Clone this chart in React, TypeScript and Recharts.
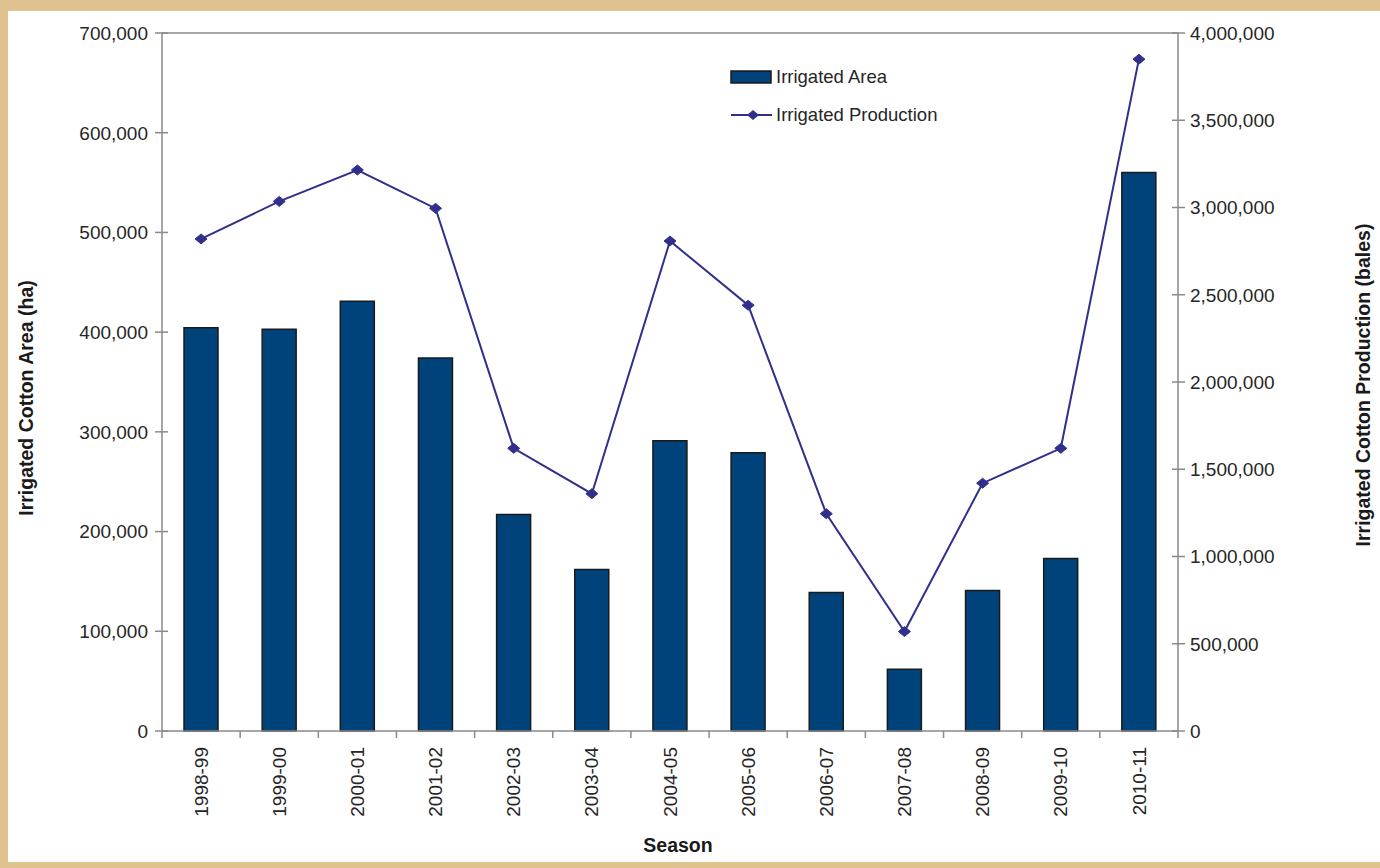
import React from "react";
import {
  ComposedChart,
  Bar,
  Line,
  XAxis,
  YAxis,
  Legend,
  ReferenceLine,
  Label,
} from "recharts";

const seasons = [
  "1998-99", "1999-00", "2000-01", "2001-02", "2002-03", "2003-04", "2004-05",
  "2005-06", "2006-07", "2007-08", "2008-09", "2009-10", "2010-11",
];
// hectares
const irrigatedArea = [
  404500, 403000, 431000, 374000, 217000, 162000, 291000,
  279000, 139000, 62000, 141000, 173000, 560000,
];
// bales
const irrigatedProduction = [
  2820000, 3035000, 3215000, 2995000, 1620000, 1360000, 2808000,
  2440000, 1245000, 570000, 1420000, 1620000, 3850000,
];
const areaTicks = [0, 100000, 200000, 300000, 400000, 500000, 600000, 700000];
const productionTicks = [
  0, 500000, 1000000, 1500000, 2000000, 2500000, 3000000, 3500000, 4000000,
];

const data = seasons.map((season, i) => ({
  season,
  area: irrigatedArea[i],
  production: irrigatedProduction[i],
}));

const FONT = "'Liberation Sans', Arial, Helvetica, sans-serif";
const AXIS = "#8a8a8a";
const TEXT = "#262626";
const TITLE = "#1a1a1a";
const BAR = "#00427a";
const LINE = "#30308c";

const fmt = (v: number) => v.toLocaleString("en-US");

function SeasonTick(props: any) {
  const { x, y, payload, index } = props;
  const half = payload?.offset ?? 39;
  const last = index === seasons.length - 1;
  return (
    <g>
      <line x1={x - half} x2={x - half} y1={y} y2={y + 7} stroke={AXIS} strokeWidth={1.5} />
      {last && <line x1={x + half} x2={x + half} y1={y} y2={y + 7} stroke={AXIS} strokeWidth={1.5} />}
      <text
        x={x}
        y={y + 16}
        dy="0.35em"
        transform={`rotate(-90, ${x}, ${y + 16})`}
        textAnchor="end"
        fontSize={19}
        fontFamily={FONT}
        fill={TEXT}
      >
        {payload.value}
      </text>
    </g>
  );
}

function LeftTick(props: any) {
  const { x, y, payload } = props;
  return (
    <g>
      <line x1={x - 7} x2={x + 6} y1={y} y2={y} stroke={AXIS} strokeWidth={1.5} />
      <text x={x - 14} y={y} dy="0.36em" textAnchor="end" fontSize={19} fontFamily={FONT} fill={TEXT}>
        {fmt(payload.value)}
      </text>
    </g>
  );
}

function RightTick(props: any) {
  const { x, y, payload } = props;
  return (
    <g>
      <line x1={x - 6} x2={x + 7} y1={y} y2={y} stroke={AXIS} strokeWidth={1.5} />
      <text x={x + 12} y={y} dy="0.36em" textAnchor="start" fontSize={19} fontFamily={FONT} fill={TEXT}>
        {fmt(payload.value)}
      </text>
    </g>
  );
}

function Diamond(props: any) {
  const { cx, cy } = props;
  if (cx == null || cy == null) return null;
  return (
    <polygon
      points={`${cx - 6},${cy} ${cx},${cy - 5} ${cx + 6},${cy} ${cx},${cy + 5}`}
      fill={LINE}
      stroke={LINE}
      strokeWidth={1}
    />
  );
}

function LegendBox() {
  const row: React.CSSProperties = {
    display: "flex",
    alignItems: "center",
    height: 26,
    fontFamily: FONT,
    fontSize: 18.5,
    color: TEXT,
    whiteSpace: "nowrap",
  };
  return (
    <div>
      <div style={row}>
        <svg width={46} height={16}>
          <rect x={1} y={2} width={40} height={12} fill={BAR} stroke="#1a1a1a" strokeWidth={1.5} />
        </svg>
        <span>Irrigated Area</span>
      </div>
      <div style={{ ...row, marginTop: 12 }}>
        <svg width={46} height={16}>
          <line x1={1} x2={42} y1={8} y2={8} stroke={LINE} strokeWidth={2} />
          <polygon points="17,8 23,3 29,8 23,13" fill={LINE} />
        </svg>
        <span>Irrigated Production</span>
      </div>
    </div>
  );
}

export default function App() {
  return (
    <div
      style={{
        position: "absolute",
        left: 0,
        top: 0,
        width: 1380,
        height: 868,
        background: "#e0c28f",
        overflow: "hidden",
      }}
    >
      <div
        style={{
          position: "absolute",
          left: 8,
          top: 11,
          width: 1372,
          height: 851,
          background: "#ffffff",
        }}
      />
      <div style={{ position: "absolute", left: 0, top: 0 }}>
        <ComposedChart
          width={1380}
          height={868}
          data={data}
          margin={{ top: 33, right: 52, bottom: 37, left: 10 }}
        >
          <XAxis
            dataKey="season"
            height={100}
            interval={0}
            tickLine={false}
            tickSize={0}
            tickMargin={0}
            axisLine={{ stroke: AXIS, strokeWidth: 1.5 }}
            tick={<SeasonTick />}
          >
            <Label
              content={() => (
                <text x={678} y={852} textAnchor="middle" fontSize={19.5} fontWeight="bold" fontFamily={FONT} fill={TITLE}>
                  Season
                </text>
              )}
            />
          </XAxis>
          <YAxis
            yAxisId="left"
            orientation="left"
            width={152}
            domain={[0, 700000]}
            ticks={areaTicks}
            interval={0}
            tickLine={false}
            tickSize={0}
            tickMargin={0}
            axisLine={{ stroke: AXIS, strokeWidth: 1.5 }}
            tick={<LeftTick />}
          >
            <Label
              content={() => (
                <text
                  x={33}
                  y={398}
                  transform="rotate(-90, 33, 398)"
                  textAnchor="middle"
                  fontSize={19.5}
                  fontWeight="bold"
                  fontFamily={FONT}
                  fill={TITLE}
                >
                  Irrigated Cotton Area (ha)
                </text>
              )}
            />
          </YAxis>
          <YAxis
            yAxisId="right"
            orientation="right"
            width={150}
            domain={[0, 4000000]}
            ticks={productionTicks}
            interval={0}
            tickLine={false}
            tickSize={0}
            tickMargin={0}
            axisLine={{ stroke: AXIS, strokeWidth: 1.5 }}
            tick={<RightTick />}
          >
            <Label
              content={() => (
                <text
                  x={1370}
                  y={385}
                  transform="rotate(-90, 1370, 385)"
                  textAnchor="middle"
                  fontSize={19.5}
                  fontWeight="bold"
                  fontFamily={FONT}
                  fill={TITLE}
                >
                  Irrigated Cotton Production (bales)
                </text>
              )}
            />
          </YAxis>
          <ReferenceLine yAxisId="left" y={700000} stroke={AXIS} strokeWidth={1.5} />
          <Legend
            layout="vertical"
            align="center"
            verticalAlign="middle"
            wrapperStyle={{ left: 730, top: 64, width: 260 }}
            content={<LegendBox />}
          />
          <Bar
            yAxisId="left"
            dataKey="area"
            name="Irrigated Area"
            barSize={34}
            fill={BAR}
            stroke="#1a1a1a"
            strokeWidth={1.5}
            isAnimationActive={false}
          />
          <Line
            yAxisId="right"
            type="linear"
            dataKey="production"
            name="Irrigated Production"
            stroke={LINE}
            strokeWidth={2}
            dot={<Diamond />}
            activeDot={false}
            isAnimationActive={false}
          />
        </ComposedChart>
      </div>
    </div>
  );
}
